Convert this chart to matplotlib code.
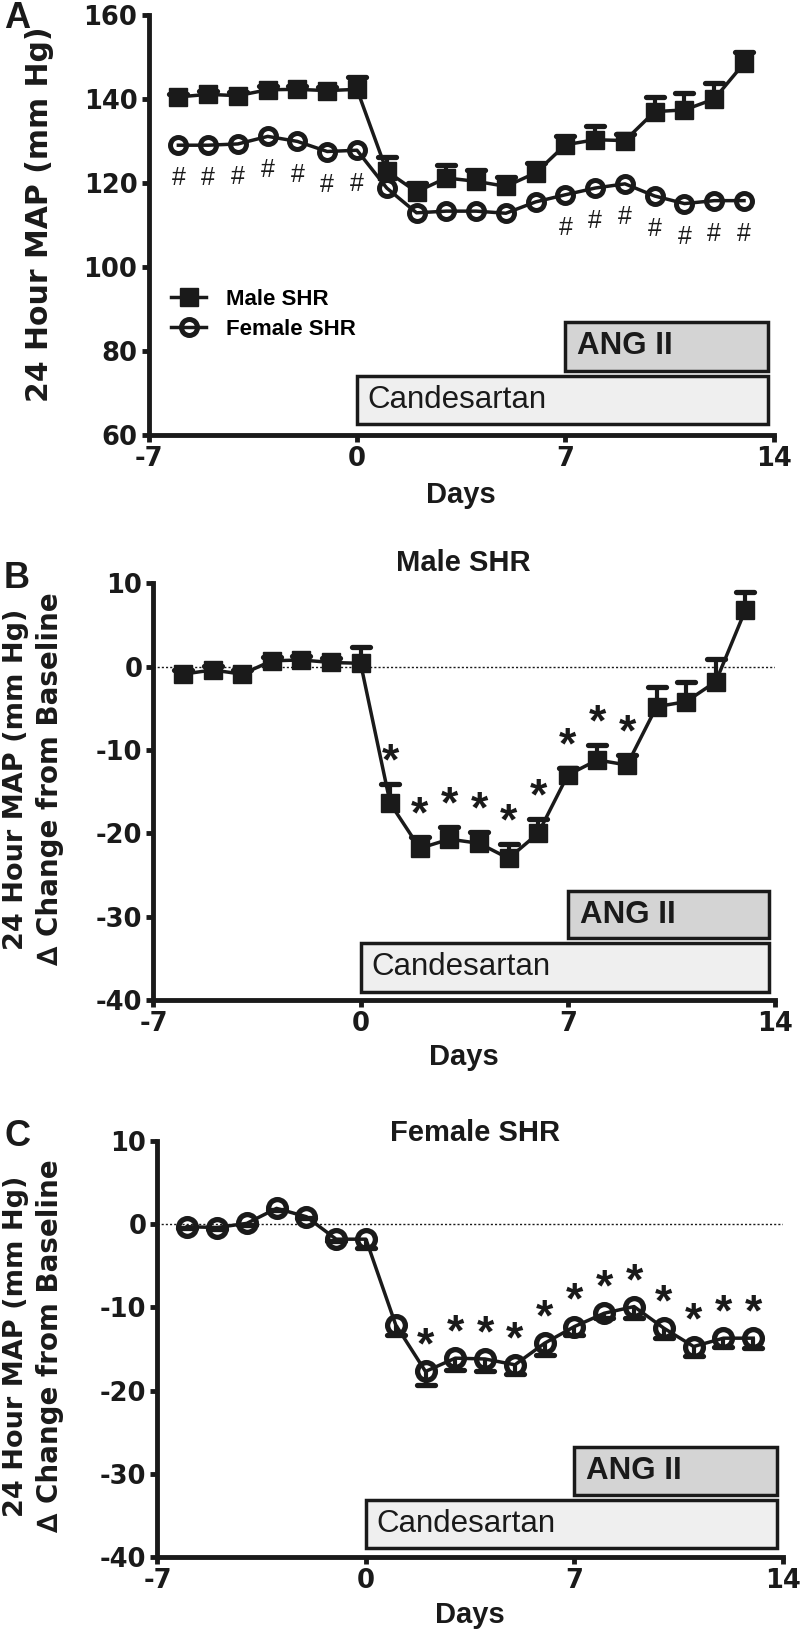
import numpy as np
import matplotlib.pyplot as plt
from matplotlib.patches import Rectangle
from matplotlib.markers import MarkerStyle

# ===== Data =====
days = [-6, -5, -4, -3, -2, -1, 0, 1, 2, 3, 4, 5, 6, 7, 8, 9, 10, 11, 12, 13]

# Panel A: absolute 24 h MAP (mm Hg)
male_map = [140.5, 141.1, 140.8, 142.2, 142.3, 142.0, 142.3, 122.8, 117.9, 121.2,
            120.4, 119.2, 122.4, 129.1, 130.3, 130.1, 137.0, 137.4, 140.0, 148.5]
male_map_sem = [0.8, 0.8, 0.8, 0.8, 0.8, 0.8, 3.0, 3.5, 2.2, 3.0,
                2.8, 2.2, 2.4, 2.2, 3.2, 1.5, 3.4, 4.0, 3.8, 2.6]
female_map = [129.0, 129.0, 129.3, 131.1, 129.9, 127.5, 127.8, 118.8, 112.9, 113.3,
              113.3, 112.8, 115.5, 117.2, 118.8, 119.8, 116.9, 115.1, 115.8, 115.8]

# Panel B: male change from baseline
male_delta = [-0.9, -0.4, -0.9, 0.7, 0.8, 0.5, 0.4, -16.4, -21.8, -20.7,
              -21.2, -23.0, -20.0, -13.0, -11.2, -11.8, -4.8, -4.2, -1.8, 6.8]
male_delta_sem = [0.5, 0.5, 0.5, 0.5, 0.5, 0.5, 1.9, 2.3, 1.4, 1.5,
                  1.4, 1.7, 1.7, 0.8, 1.8, 1.2, 2.4, 2.3, 2.7, 2.2]

# Panel C: female change from baseline (error bars drawn downward)
female_delta = [-0.3, -0.4, 0.1, 1.9, 0.9, -1.8, -1.8, -12.1, -17.7, -16.1,
                -16.2, -16.9, -14.3, -12.3, -10.7, -9.9, -12.5, -14.7, -13.7, -13.7]
female_delta_sem = [0.2, 0.2, 0.2, 0.2, 0.2, 0.2, 1.1, 1.2, 1.6, 1.4,
                    1.4, 1.1, 1.4, 1.0, 0.6, 1.4, 1.2, 1.2, 1.1, 1.2]

hash_days = [-6, -5, -4, -3, -2, -1, 0, 7, 8, 9, 10, 11, 12, 13]
male_star_days = [1, 2, 3, 4, 5, 6, 7, 8, 9]
female_star_days = [2, 3, 4, 5, 6, 7, 8, 9, 10, 11, 12, 13]

x_ticks = [-7, 0, 7, 14]
map_ticks = [60, 80, 100, 120, 140, 160]
delta_ticks = [-40, -30, -20, -10, 0, 10]

candesartan_period = (0, 13.8)
ang_period = (7, 13.8)

INK = '#1a1a1a'
W, H = 800, 1632

plt.rcParams['font.family'] = ['Liberation Sans', 'DejaVu Sans']
plt.rcParams['axes.unicode_minus'] = False

fig = plt.figure(figsize=(W / 100, H / 100), dpi=100)


def px_axes(x0, x1, y_top, y_bot):
    return fig.add_axes([x0 / W, 1 - y_bot / H, (x1 - x0) / W, (y_bot - y_top) / H])


def fig_text(x, y, s, **kw):
    fig.text(x / W, 1 - y / H, s, ha='center', va='center', color=INK, **kw)


def style(ax, ylim, yticks):
    ax.set_xlim(-7, 14)
    ax.set_ylim(*ylim)
    ax.set_xticks(x_ticks)
    ax.set_xticklabels([str(t) for t in x_ticks])
    ax.set_yticks(yticks)
    ax.set_yticklabels([str(t) for t in yticks])
    for side in ('top', 'right'):
        ax.spines[side].set_visible(False)
    for side in ('left', 'bottom'):
        ax.spines[side].set_linewidth(3.5)
        ax.spines[side].set_color(INK)
        ax.spines[side].set_capstyle('projecting')
    ax.tick_params(direction='out', length=5, width=3.5, color=INK,
                   labelsize=18.5, labelcolor=INK, pad=3)
    for lab in ax.get_xticklabels() + ax.get_yticklabels():
        lab.set_fontweight('bold')
        lab.set_fontfamily('DejaVu Sans')
    ax.patch.set_alpha(0)


def draw_boxes(ax, ang_y, cand_y):
    ax.add_patch(Rectangle((candesartan_period[0], cand_y[0]),
                           candesartan_period[1] - candesartan_period[0], cand_y[1] - cand_y[0],
                           fc='#efefef', ec=INK, lw=2.5, zorder=1))
    ax.add_patch(Rectangle((ang_period[0], ang_y[0]),
                           ang_period[1] - ang_period[0], ang_y[1] - ang_y[0],
                           fc='#d4d4d4', ec=INK, lw=2.5, zorder=1))
    ax.text(ang_period[0] + 0.4, sum(ang_y) / 2, 'ANG II', fontsize=22.5,
            fontweight='bold', va='center', ha='left', color=INK, zorder=2)
    ax.text(candesartan_period[0] + 0.35, sum(cand_y) / 2, 'Candesartan', fontsize=22.5,
            va='center', ha='left', color=INK, zorder=2)


def error_bars(ax, vals, sem, up=True):
    vals = np.array(vals)
    sem = np.array(sem)
    ends = vals + sem if up else vals - sem
    ax.vlines(days, vals, ends, color=INK, lw=3, zorder=2)
    cap = MarkerStyle('_', capstyle='round')
    ax.plot(days, ends, ls='none', marker=cap, ms=13, mew=3.8, color=INK, zorder=2)


def squares(ax, vals, ms, label=None):
    return ax.plot(days, vals, '-', marker='s', ms=ms, color=INK, lw=2.5,
                   zorder=3, label=label)[0]


def circles(ax, vals, ms, mew, label=None):
    return ax.plot(days, vals, '-', marker='o', ms=ms, mfc='none', mew=mew,
                   color=INK, lw=2.5, zorder=3, label=label)[0]


def marks(ax, xs, ys, s, dy, size, weight='normal'):
    for x, y in zip(xs, ys):
        ax.annotate(s, xy=(x, y), xytext=(0, dy), textcoords='offset points',
                    ha='center', va='baseline', fontsize=size, fontweight=weight,
                    color=INK, zorder=4)


# ===== Panel A =====
axA = px_axes(148.6, 773.8, 15, 435)
style(axA, (60, 160), map_ticks)
draw_boxes(axA, (75.3, 86.9), (62.6, 74.1))
error_bars(axA, male_map, male_map_sem)
hm = squares(axA, male_map, 12.5, 'Male SHR')
hf = circles(axA, female_map, 11.5, 3.6, 'Female SHR')
fm = dict(zip(days, female_map))
marks(axA, hash_days, [fm[d] for d in hash_days], '#', -29, 18)
axA.legend(handles=[hm, hf], loc='center left', bbox_to_anchor=(-6.25, 88.7),
           bbox_transform=axA.transData, frameon=False,
           prop={'weight': 'bold', 'size': 16}, handlelength=1.6,
           handletextpad=0.9, labelspacing=0.4, borderpad=0, borderaxespad=0)

# ===== Panel B =====
axB = px_axes(153.4, 775, 583.3, 1000)
style(axB, (-40, 10), delta_ticks)
axB.axhline(0, ls=(0, (1.5, 1.5)), lw=1, color=INK, zorder=1)
draw_boxes(axB, (-32.6, -26.9), (-39.0, -33.2))
error_bars(axB, male_delta, male_delta_sem)
squares(axB, male_delta, 13.5)
tops = dict(zip(days, np.array(male_delta) + np.array(male_delta_sem)))
marks(axB, male_star_days, [tops[d] for d in male_star_days], '*', 7.0, 32, 'bold')

# ===== Panel C =====
axC = px_axes(157.4, 783, 1141, 1557)
style(axC, (-40, 10), delta_ticks)
axC.axhline(0, ls=(0, (1.5, 1.5)), lw=1, color=INK, zorder=1)
draw_boxes(axC, (-32.6, -26.8), (-38.9, -33.2))
error_bars(axC, female_delta, female_delta_sem, up=False)
circles(axC, female_delta, 12.8, 3.8)
fd = dict(zip(days, female_delta))
marks(axC, female_star_days, [fd[d] for d in female_star_days], '*', 9.1, 32, 'bold')

# ===== Labels =====
fig_text(17, 18, 'A', fontsize=26, fontweight='bold')
fig_text(17, 579, 'B', fontsize=26, fontweight='bold')
fig_text(18, 1136, 'C', fontsize=26, fontweight='bold')

fig_text(40, 214, '24 Hour MAP (mm Hg)', rotation=90, fontsize=21.5,
         fontweight='bold', family='DejaVu Sans')
for yc in (779, 1346):
    fig_text(16, yc, '24 Hour MAP (mm Hg)', rotation=90, fontsize=19.5,
             fontweight='bold', family='DejaVu Sans')
    fig_text(50, yc, '\u2206 Change from Baseline', rotation=90, fontsize=20,
             fontweight='bold', family='DejaVu Sans')

fig_text(463, 563, 'Male SHR', fontsize=21, fontweight='bold')
fig_text(475, 1133, 'Female SHR', fontsize=21, fontweight='bold')

fig_text(461, 495, 'Days', fontsize=21, fontweight='bold')
fig_text(464, 1057, 'Days', fontsize=21, fontweight='bold')
fig_text(470, 1615, 'Days', fontsize=21, fontweight='bold')

fig.savefig('out.png', dpi=100, facecolor='white')
